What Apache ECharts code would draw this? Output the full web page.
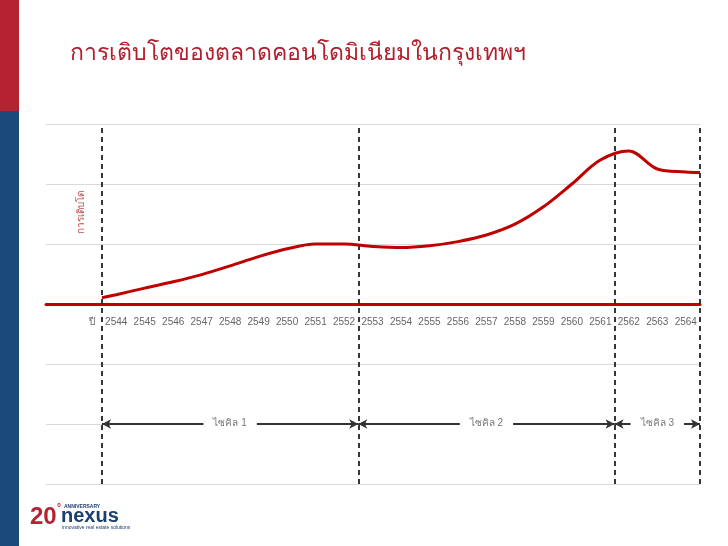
<!DOCTYPE html>
<html><head><meta charset="utf-8">
<script src="https://cdn.jsdelivr.net/npm/echarts@6/dist/echarts.min.js"></script>
<style>html,body{margin:0;padding:0;background:#fff}#c{width:728px;height:546px}</style>
</head><body><div id="c"></div>
<script>
var title = 'การเติบโตของตลาดคอนโดมิเนียมในกรุงเทพฯ';
var yName = 'การเติบโต';
var xName = 'ปี';
var years = ['2544','2545','2546','2547','2548','2549','2550','2551','2552','2553','2554','2555','2556','2557','2558','2559','2560','2561','2562','2563','2564'];
var curveX = [2543.5,2544,2545,2546,2547,2548,2549,2550,2551,2552,2553,2554,2555,2556,2557,2558,2559,2560,2561,2562,2563,2564,2564.5];
var curveY = [0.105,0.155,0.265,0.37,0.49,0.635,0.79,0.92,1.0,1.0,0.96,0.94,0.97,1.04,1.15,1.33,1.62,2.0,2.40,2.55,2.25,2.20,2.19];
var cycleNames = ['ไซคิล 1','ไซคิล 2','ไซคิล 3'];
var cycleBounds = [2543.5,2552.5,2561.5,2564.5];

var chart = echarts.init(document.getElementById('c'));
var lineData = curveX.map(function(x,i){return [x,curveY[i]];});
var vLines = cycleBounds.map(function(b){return {xAxis:b};});
var arrows = cycleNames.map(function(n,i){
  return [{coord:[cycleBounds[i],-2], name:n},{coord:[cycleBounds[i+1],-2]}];
});
var FONT = 'Liberation Sans, Arial, sans-serif';
chart.setOption({
  animation:false,
  grid:[
    {left:46,right:28,top:124,height:360},
    {left:102,right:28,top:124,height:360},
    {left:102,right:28,top:124,height:180}
  ],
  xAxis:[
    {gridIndex:0,type:'value',min:0,max:1,axisLine:{show:true,onZero:true,lineStyle:{color:'#c00000',width:3}},axisTick:{show:false},axisLabel:{show:false},splitLine:{show:false}},
    {gridIndex:1,type:'value',min:2543.5,max:2564.5,show:false},
    {gridIndex:2,type:'category',data:years,boundaryGap:true,axisLine:{show:false},axisTick:{show:false},
      axisLabel:{color:'#666',fontSize:10,fontFamily:FONT,margin:13,interval:0}}
  ],
  yAxis:[
    {gridIndex:0,type:'value',min:-3,max:3,interval:1,axisLine:{show:false},axisTick:{show:false},axisLabel:{show:false},splitLine:{lineStyle:{color:'#d9d9d9',width:1}}},
    {gridIndex:1,type:'value',min:-3,max:3,interval:1,show:false,splitLine:{show:false}},
    {gridIndex:2,type:'value',min:0,max:3,show:false,splitLine:{show:false}}
  ],
  series:[
    {type:'line',xAxisIndex:1,yAxisIndex:1,data:lineData,smooth:0.35,symbol:'none',
      lineStyle:{color:'#c00000',width:3},z:5,
      markLine:{silent:true,symbol:['none','none'],label:{show:false},
        lineStyle:{color:'#222',type:[5,4],width:1.8},data:vLines}},
    {type:'line',xAxisIndex:1,yAxisIndex:1,data:[],
      markLine:{silent:true,symbol:['arrow','arrow'],symbolSize:[7,9],
        lineStyle:{color:'#333',type:'solid',width:2},
        label:{show:true,position:'middle',formatter:'{b}',color:'#777',fontSize:10,fontFamily:FONT,
          backgroundColor:'#fff',padding:[2,10],distance:-6},
        data:arrows}}
  ],
  graphic:[
    {type:'rect',left:0,top:0,shape:{width:19,height:111},style:{fill:'#b52330'}},
    {type:'rect',left:0,top:111,shape:{width:19,height:435},style:{fill:'#1b4a7a'}},
    {type:'text',left:70,top:42,style:{text:title,fill:'#b01f2d',fontSize:23,fontFamily:'Noto Sans, sans-serif'}},
    {type:'text',x:81,y:212,rotation:Math.PI/2,style:{text:yName,fill:'#c0504d',fontSize:10,fontFamily:FONT,align:'center',verticalAlign:'middle'}},
    {type:'text',x:92,y:322,style:{text:xName,fill:'#666',fontSize:10,fontFamily:FONT,align:'center',verticalAlign:'middle'}},
    {type:'text',x:30,y:505,style:{text:'20',fill:'#b52330',fontSize:24,fontWeight:'bold',fontFamily:FONT}},
    {type:'text',x:57,y:503,style:{text:'°',fill:'#b52330',fontSize:10,fontWeight:'bold',fontFamily:FONT}},
    {type:'text',x:64,y:504,style:{text:'ANNIVERSARY',fill:'#1b3f6e',fontSize:5,fontWeight:'bold',fontFamily:FONT}},
    {type:'text',x:61,y:506,style:{text:'nexus',fill:'#1b3f6e',fontSize:20,fontWeight:'bold',fontFamily:FONT}},
    {type:'text',x:62,y:525,style:{text:'innovative real estate solutions',fill:'#1b3f6e',fontSize:5,fontFamily:FONT}}
  ]
});
</script></body></html>
